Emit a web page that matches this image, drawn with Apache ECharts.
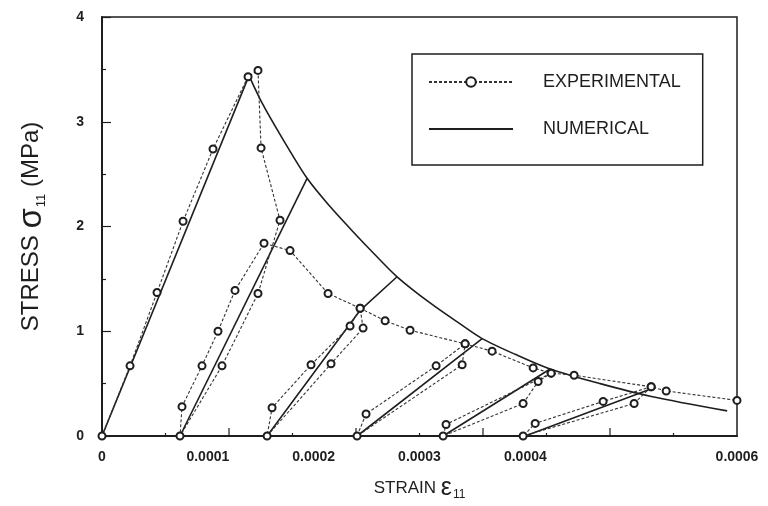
<!DOCTYPE html>
<html>
<head>
<meta charset="utf-8">
<script src="https://cdn.jsdelivr.net/npm/echarts@6/dist/echarts.min.js"></script>
<style>
  html, body { margin: 0; padding: 0; background: #fff; }
  #chart { width: 768px; height: 506px; }
</style>
</head>
<body>
<div id="chart"></div>
<script>
// Strains printed under the axis (0.0005 is left unlabelled)
const strainLabels = [0, 0.0001, 0.0002, 0.0003, 0.0004, 0.0006];
const stressLabels = [0, 1, 2, 3, 4];
// Strain scale tick spacing: long ticks every 0.00012, short ones in between
const strainTickStep = 0.00006;

// Experimental record: loading, softening and five unload/reload cycles, in test order
const expStrain = [
  0, 0.0000265, 0.000052, 0.0000766, 0.0001049, 0.000138, 0.0001474,
  0.0001503, 0.0001682,
  0.0001474, 0.0001134, 0.0000737,
  0.0000756, 0.0000945, 0.0001096, 0.0001257, 0.0001531,
  0.0001777, 0.0002136, 0.0002439,
  0.0002467, 0.0002164, 0.000156,
  0.0001607, 0.0001975, 0.0002344, 0.0002439,
  0.0002675, 0.0002911, 0.0003431,
  0.0003403, 0.000241,
  0.0002495, 0.0003157, 0.0003431,
  0.0003686, 0.0004074, 0.0004244,
  0.0004121, 0.0003979, 0.0003223,
  0.0003251, 0.0004244,
  0.0004461, 0.0005189,
  0.0005028, 0.0003979,
  0.0004093, 0.0004735, 0.0005189,
  0.0005331, 0.0006
];
const expStress = [
  0, 0.67, 1.37, 2.05, 2.74, 3.43, 3.49,
  2.75, 2.06,
  1.36, 0.67, 0,
  0.28, 0.67, 1.0, 1.39, 1.84,
  1.77, 1.36, 1.22,
  1.03, 0.69, 0,
  0.27, 0.68, 1.05, 1.22,
  1.10, 1.01, 0.88,
  0.68, 0,
  0.21, 0.67, 0.88,
  0.81, 0.65, 0.60,
  0.52, 0.31, 0,
  0.11, 0.60,
  0.58, 0.47,
  0.31, 0,
  0.12, 0.33, 0.47,
  0.43, 0.34
];

// Numerical model: linear rise to the peak, then the softening envelope
const numRiseStrain = [0, 0.0001389];
const numRiseStress = [0, 3.44];
const numSoftStrain = [0.0001389, 0.0001512, 0.0001711, 0.0001938, 0.0002155, 0.0002363,
  0.000258, 0.0002788, 0.00031, 0.0003384, 0.0003592, 0.0003904, 0.0004234,
  0.0004707, 0.000518, 0.0005907];
const numSoftStress = [3.44, 3.18, 2.83, 2.46, 2.19, 1.96,
  1.73, 1.52, 1.27, 1.07, 0.93, 0.78, 0.64,
  0.50, 0.38, 0.24];

// Numerical unloading branches, from the envelope down to the residual strain
const numUnload1Strain = [0.0001938, 0.0000737];
const numUnload1Stress = [2.46, 0];
const numUnload2Strain = [0.0002788, 0.0002439, 0.000156];
const numUnload2Stress = [1.52, 1.20, 0];
const numUnload3Strain = [0.0003592, 0.000241];
const numUnload3Stress = [0.93, 0];
const numUnload4Strain = [0.0004234, 0.0003223];
const numUnload4Stress = [0.64, 0];
const numUnload5Strain = [0.000516, 0.0003998];
const numUnload5Stress = [0.44, 0];

const pairs = (xs, ys) => xs.map((x, i) => [x, ys[i]]);

const ink = '#1e1e1e';
const font = 'Liberation Sans, Arial, sans-serif';

const numericalStyle = { color: ink, width: 1.6, type: 'solid' };
function numericalSeries(xs, ys, smooth) {
  return {
    name: 'NUMERICAL',
    type: 'line',
    data: pairs(xs, ys),
    symbol: 'none',
    smooth: smooth || false,
    lineStyle: numericalStyle,
    itemStyle: { color: ink },
    z: 2
  };
}

// Inward tick marks along the strain axis, placed through the axis scale
const strainTicks = [];
for (let k = 1; k * strainTickStep < 0.0006 - 1e-9; k++) {
  strainTicks.push([Number((k * strainTickStep).toFixed(6)), k % 2 === 0 ? 1 : 0]);
}
const strainTickSeries = {
  type: 'custom',
  silent: true,
  clip: false,
  z: 1,
  data: strainTicks,
  encode: { x: 0 },
  renderItem: (params, api) => {
    const p = api.coord([api.value(0), 0]);
    const len = api.value(1) ? 8 : 3;
    return {
      type: 'line',
      shape: { x1: p[0], y1: p[1], x2: p[0], y2: p[1] - len },
      style: { stroke: ink, lineWidth: 1.2 }
    };
  }
};

const chart = echarts.init(document.getElementById('chart'), null, { renderer: 'canvas' });

chart.setOption({
  animation: false,
  backgroundColor: '#fff',
  grid: {
    left: 102, right: 31, top: 17, bottom: 68,
    show: true, borderColor: ink, borderWidth: 1.5, backgroundColor: 'transparent'
  },
  legend: {
    data: [
      { name: 'EXPERIMENTAL' },
      { name: 'NUMERICAL', itemStyle: { opacity: 0 } }
    ],
    orient: 'vertical',
    left: 412, top: 54,
    itemWidth: 84, itemHeight: 12,
    itemGap: 27,
    padding: [18, 22, 26, 16],
    borderColor: ink, borderWidth: 1.5,
    backgroundColor: '#fff',
    selectedMode: false,
    textStyle: { fontFamily: font, fontSize: 18, color: ink, lineHeight: 20, padding: [0, 0, 0, 25] }
  },
  xAxis: {
    type: 'value',
    min: 0, max: 0.0006, interval: 0.00012,
    name: '{a|STRAIN }{b|ε}{c|11}',
    nameLocation: 'middle',
    nameGap: 40,
    nameTextStyle: {
      color: ink,
      rich: {
        a: { fontFamily: font, fontSize: 17, color: ink },
        b: { fontFamily: font, fontSize: 25, color: ink },
        c: { fontFamily: font, fontSize: 12, color: ink, verticalAlign: 'bottom', padding: [0, 0, 0, 1] }
      }
    },
    axisLine: { show: true, onZero: false, lineStyle: { color: ink, width: 2 } },
    axisTick: { show: false },
    splitLine: { show: false },
    axisLabel: {
      customValues: strainLabels,
      margin: 14,
      fontFamily: font, fontSize: 14, fontWeight: 'bold', color: ink,
      formatter: v => (Math.abs(v) < 1e-12 ? '0' : v.toFixed(4))
    }
  },
  yAxis: {
    type: 'value',
    min: 0, max: 4, interval: 1,
    name: '{a|STRESS }{b|σ}{c|11}{a| (MPa)}',
    nameLocation: 'middle',
    nameGap: 54,
    nameTextStyle: {
      color: ink,
      rich: {
        a: { fontFamily: font, fontSize: 24, color: ink },
        b: { fontFamily: font, fontSize: 33, color: ink },
        c: { fontFamily: font, fontSize: 13, color: ink, verticalAlign: 'bottom', padding: [0, 0, 0, 1] }
      }
    },
    axisLine: { show: true, onZero: false, lineStyle: { color: ink, width: 2 } },
    axisTick: { show: true, inside: true, length: 9, lineStyle: { color: ink, width: 1.2 } },
    minorTick: { show: true, splitNumber: 2, length: 4, lineStyle: { color: ink, width: 1.2 } },
    splitLine: { show: false },
    axisLabel: {
      customValues: stressLabels,
      margin: 18,
      fontFamily: font, fontSize: 14, fontWeight: 'bold', color: ink
    }
  },
  series: [
    strainTickSeries,
    numericalSeries(numRiseStrain, numRiseStress),
    numericalSeries(numSoftStrain, numSoftStress, 0.3),
    numericalSeries(numUnload1Strain, numUnload1Stress),
    numericalSeries(numUnload2Strain, numUnload2Stress),
    numericalSeries(numUnload3Strain, numUnload3Stress),
    numericalSeries(numUnload4Strain, numUnload4Stress),
    numericalSeries(numUnload5Strain, numUnload5Stress),
    {
      name: 'EXPERIMENTAL',
      type: 'line',
      data: pairs(expStrain, expStress),
      symbol: 'emptyCircle',
      symbolSize: 7,
      showAllSymbol: true,
      lineStyle: { color: '#333', width: 1.1, type: [3, 2] },
      itemStyle: { color: ink, borderColor: ink, borderWidth: 1.2 },
      z: 3
    }
  ]
});
</script>
</body>
</html>
